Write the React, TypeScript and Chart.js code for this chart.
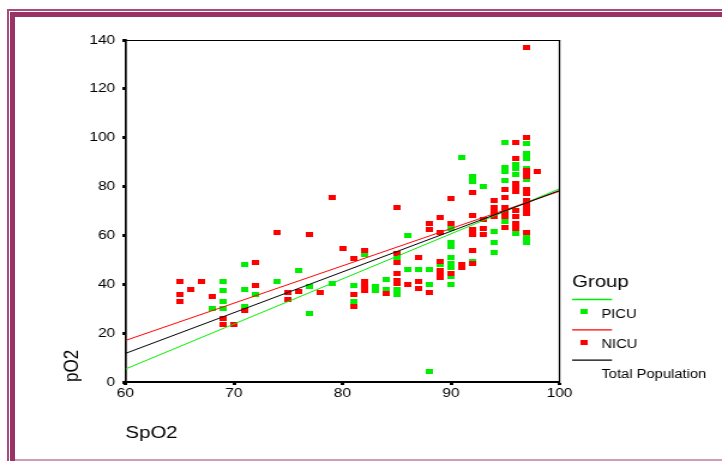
import React, { useEffect, useRef } from "react";
import { Chart, registerables } from "chart.js";

Chart.register(...registerables);

// ---------- data ----------
const xTitle = "SpO2";
const yTitle = "pO2";
const legendTitle = "Group";
const legendLabels = ["PICU", "NICU", "Total Population"];

const picuSpO2 = [
  68, 69, 69, 69, 69, 71, 71, 71, 72, 74, 76, 77, 77, 79, 81, 81, 82, 83, 83, 84, 84,
  85, 85, 85, 86, 86, 87, 88, 88, 88, 89,
  90, 90, 90, 90, 90, 90, 90, 90, 91, 92, 92, 92, 93, 94, 94, 94,
  95, 95, 95, 95, 95, 96, 96, 96, 96, 97, 97, 97, 97, 97, 97, 97,
];
const picuPO2 = [
  30, 41, 37.5, 33, 30, 48, 38, 31, 36, 41, 45.5, 39, 28, 40.5, 39.5, 33, 52, 39, 37.5, 42, 38,
  51, 38, 36, 60, 46, 46, 46, 40, 4.5, 48,
  63, 57.3, 55.5, 51, 48.7, 47, 43, 40, 92, 84, 82, 49.5, 80, 61.6, 57.3, 53,
  98, 88, 86, 82.5, 65.8, 89, 87.6, 85, 60.7, 97.5, 93.6, 91.3, 87.6, 82.7, 59, 57.3,
];

const nicuSpO2 = [
  65, 65, 65, 66, 67, 68, 69, 69, 70, 71, 72, 72, 74, 75, 75, 76, 77, 78, 79, 80,
  81, 81, 81, 82, 82, 82, 82, 84, 85, 85, 85, 85, 85, 85, 86, 87, 87, 87, 88, 88, 88,
  89, 89, 89, 89, 89, 89, 90, 90, 90, 91, 91, 92, 92, 92, 92, 92, 92, 93, 93, 93,
  94, 94, 94, 94, 95, 95, 95, 95, 95, 95,
  96, 96, 96, 96, 96, 96, 96, 96, 96,
  97, 97, 97, 97, 97, 97, 97, 97, 97, 97, 97, 97, 98,
];
const nicuPO2 = [
  41, 36, 33, 38, 41, 35, 26, 23.5, 23.7, 29.3, 49, 39.3, 61, 36.6, 33.8, 37, 60.3, 36.6, 75.5, 54.7,
  50.7, 35.8, 31, 54, 41, 39.2, 37.6, 36.2, 71.4, 52.5, 49, 44.4, 41.6, 40.3, 40, 50.9, 41, 38.2, 65, 62.5, 36.6,
  67.2, 61, 49.5, 45.7, 44.1, 42.6, 75.2, 65, 44.6, 48.2, 46.8, 77.4, 68.2, 62.5, 60.5, 53.9, 48.5, 66.6, 63, 60.4,
  74.1, 71.6, 69.5, 67.9, 78.9, 75.4, 71.6, 69.9, 67.9, 63.2,
  98.1, 91.3, 81.4, 79.7, 78.1, 70.2, 67.9, 64.8, 62.7,
  137, 100, 86.5, 85.2, 84.1, 78.8, 77.3, 74.3, 72.2, 70.2, 68.9, 61.3, 86.2,
];

// fitted regression lines (read at SpO2 = 60 and 100)
const fitSpO2 = [60, 100];
const picuFit = [5.3, 79.1];
const nicuFit = [17, 78.1];
const totalFit = [11.7, 78.4];

const xLimits = [60, 100];
const yLimits = [0, 140];
const xStep = 10;
const yStep = 20;

// ---------- styling ----------
const FONT = '"Liberation Sans", Arial, Helvetica, sans-serif';
const GREEN = "#00ee00";
const RED = "#ff0000";
const STRETCH_W = 602; // internal canvas width, stretched to 722 on screen

function pts(xs: number[], ys: number[]) {
  return xs.map((x, i) => ({ x, y: ys[i] }));
}

function makeMarker(color: string) {
  const c = document.createElement("canvas");
  c.width = 6;
  c.height = 5;
  const g = c.getContext("2d")!;
  g.fillStyle = color;
  g.fillRect(0, 0, 6, 5);
  return c;
}

export default function App() {
  const ref = useRef<HTMLCanvasElement | null>(null);

  useEffect(() => {
    document.body.style.margin = "0";
    const canvas = ref.current!;
    const greenMark = makeMarker(GREEN);
    const redMark = makeMarker(RED);

    const boxLegend = {
      id: "boxLegend",
      afterDraw(chart: any) {
        const ctx = chart.ctx as CanvasRenderingContext2D;
        const a = chart.chartArea;
        ctx.save();
        ctx.strokeStyle = "#000";
        ctx.lineWidth = 1;
        ctx.beginPath();
        ctx.moveTo(a.left, a.top + 0.5);
        ctx.lineTo(a.right + 0.6, a.top + 0.5);
        ctx.stroke();
        ctx.lineWidth = 1.3;
        ctx.beginPath();
        ctx.moveTo(a.right, a.top);
        ctx.lineTo(a.right, a.bottom + 1);
        ctx.stroke();

        // legend
        const lx = 477;
        const lx2 = 510.3;
        const mx = 487.2;
        const tx = 501.4;
        ctx.fillStyle = "#000";
        ctx.textAlign = "left";
        ctx.textBaseline = "alphabetic";
        ctx.font = `17px ${FONT}`;
        ctx.fillText(legendTitle, lx, 287);
        const colors = [GREEN, RED, "#000"];
        const marks = [greenMark, redMark, null];
        ctx.font = `12.3px ${FONT}`;
        legendLabels.forEach((label, i) => {
          const ly = 299.5 + i * 30.3;
          ctx.strokeStyle = colors[i];
          ctx.lineWidth = 1.3;
          ctx.beginPath();
          ctx.moveTo(lx, ly);
          ctx.lineTo(lx2, ly);
          ctx.stroke();
          const m = marks[i];
          if (m) ctx.drawImage(m, mx - 3, ly + 12.3 - 2.5);
          ctx.fillStyle = "#000";
          ctx.fillText(label, tx, ly + 18.3);
        });
        ctx.restore();
      },
    };

    const lineDs = (vals: number[], color: string, label: string) => ({
      label,
      data: pts(fitSpO2, vals),
      showLine: true,
      borderColor: color,
      borderWidth: 1,
      pointRadius: 0,
      fill: false,
    });

    const chart = new Chart(canvas, {
      type: "scatter",
      data: {
        datasets: [
          lineDs(totalFit, "#000", "Total Population"),
          lineDs(nicuFit, RED, "NICU fit"),
          lineDs(picuFit, GREEN, "PICU fit"),
          {
            label: "NICU",
            data: pts(nicuSpO2, nicuPO2),
            pointStyle: redMark as any,
            pointRadius: 3,
            backgroundColor: RED,
            borderColor: RED,
          },
          {
            label: "PICU",
            data: pts(picuSpO2, picuPO2),
            pointStyle: greenMark as any,
            pointRadius: 3,
            backgroundColor: GREEN,
            borderColor: GREEN,
          },
        ],
      },
      options: {
        responsive: false,
        animation: false,
        events: [],
        devicePixelRatio: 1,
        layout: { padding: { left: 0, right: STRETCH_W - 466.5, top: 40, bottom: 0 } },
        plugins: { legend: { display: false }, tooltip: { enabled: false } },
        scales: {
          x: {
            type: "linear",
            min: xLimits[0],
            max: xLimits[1],
            ticks: { stepSize: xStep, color: "#000", font: { family: FONT, size: 13 }, padding: 1 },
            grid: {
              display: true,
              drawOnChartArea: false,
              drawTicks: true,
              tickLength: 3,
              tickWidth: 3,
              tickColor: "#000",
            },
            border: { display: true, color: "#000", width: 2 },
            title: {
              display: true,
              text: xTitle,
              align: "start",
              color: "#000",
              font: { family: FONT, size: 17 },
              padding: { top: 0, bottom: 17.8 },
            },
            afterFit: (s: any) => {
              s.height = 79;
            },
          },
          y: {
            type: "linear",
            min: yLimits[0],
            max: yLimits[1],
            ticks: { stepSize: yStep, color: "#000", font: { family: FONT, size: 13 }, padding: 6 },
            grid: {
              display: true,
              drawOnChartArea: false,
              drawTicks: true,
              tickLength: 2.5,
              tickWidth: 3,
              tickColor: "#000",
            },
            border: { display: true, color: "#000", width: 1.7 },
            title: {
              display: true,
              text: yTitle,
              align: "start",
              color: "#000",
              font: { family: FONT, size: 17 },
              padding: { top: 49.8, bottom: 0 },
            },
            afterFit: (s: any) => {
              s.width = 104.6;
            },
          },
        },
      } as any,
      plugins: [boxLegend],
    });
    return () => chart.destroy();
  }, []);

  const plum = "#993366";
  return (
    <div
      style={{
        position: "fixed",
        left: 0,
        top: 0,
        width: 722,
        height: 461,
        background: "#fff",
        overflow: "hidden",
      }}
    >
      <canvas
        ref={ref}
        width={STRETCH_W}
        height={461}
        style={{ position: "absolute", left: 0, top: 0, width: "722px", height: "461px" }}
      />
      <div style={{ position: "absolute", left: 7, top: 9, width: 715, height: 2, background: "#a64d79" }} />
      <div style={{ position: "absolute", left: 7, top: 9, width: 2, height: 452, background: "#a64d79" }} />
      <div style={{ position: "absolute", left: 10, top: 12, width: 712, height: 5, background: plum }} />
      <div style={{ position: "absolute", left: 10, top: 12, width: 5, height: 449, background: plum }} />
      <div style={{ position: "absolute", left: 15, top: 459, width: 707, height: 2, background: "#d49ab9" }} />
    </div>
  );
}
